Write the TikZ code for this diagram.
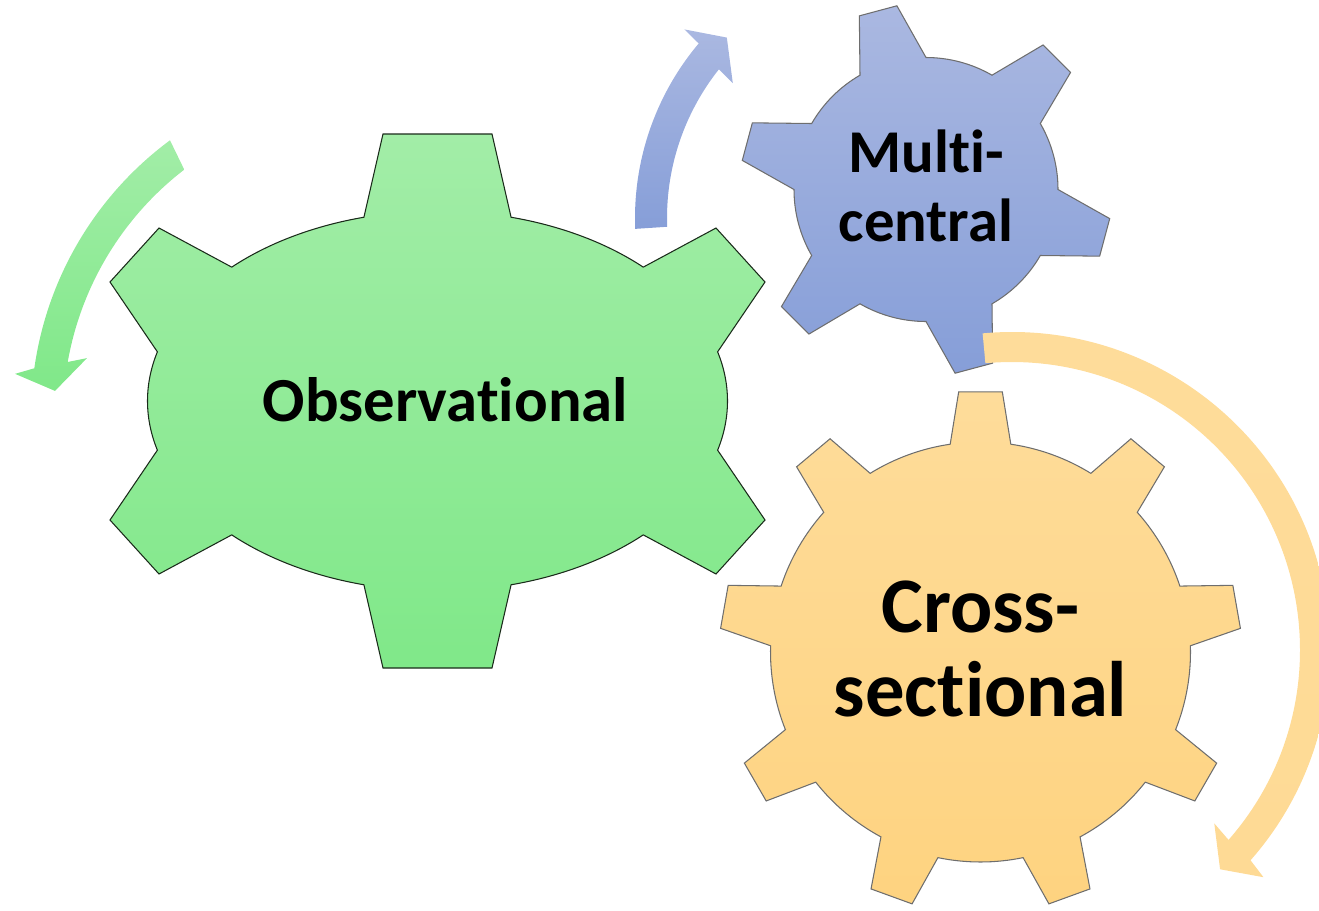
\documentclass[tikz,border=0pt]{standalone}
\usepackage{fontspec}
\setmainfont{Carlito}[Ligatures=NoCommon]
\definecolor{gTop}{RGB}{162,237,167}
\definecolor{gBot}{RGB}{128,232,137}
\definecolor{bTop}{RGB}{170,184,225}
\definecolor{bBot}{RGB}{134,158,216}
\definecolor{oTop}{RGB}{254,220,154}
\definecolor{oBot}{RGB}{254,211,128}
\definecolor{gearline}{RGB}{110,110,110}
\tikzset{
  geargreen/.style={draw=gearline!80!green!30!black,line width=0.6pt,top color=gTop,bottom color=gBot,line join=miter},
  gearblue/.style={draw=gearline,line width=0.6pt,top color=bTop,bottom color=bBot,line join=miter},
  gearorange/.style={draw=gearline,line width=0.6pt,top color=oTop,bottom color=oBot,line join=miter},
  arrgreen/.style={top color=gTop,bottom color=gBot},
  arrblue/.style={top color=bTop,bottom color=bBot},
  arrorange/.style={top color=oTop,bottom color=oTop!80!oBot},
  label/.style={font=\bfseries, text=black, align=center, inner sep=0pt}
}
\begin{document}
\begin{tikzpicture}[x=0.02cm,y=-0.02cm]
\useasboundingbox (0,0) rectangle (1319,910);
\clip (0,0) rectangle (1319,910);
% green gear
\begin{scope}[shift={(437.5,401)}]
\path[geargreen] (255.3:290 and 190) -- (-54.5,-267) -- (54.5,-267) -- (284.7:290 and 190)
 arc[start angle=284.7,end angle=315.2,x radius=290,y radius=190]
 -- (278.5,-173) -- (327.5,-119) -- (345:290 and 190)
 arc[start angle=345,end angle=375,x radius=290,y radius=190]
 -- (327.5,119) -- (278.5,173) -- (44.8:290 and 190)
 arc[start angle=44.8,end angle=75.3,x radius=290,y radius=190]
 -- (54.5,267) -- (-54.5,267) -- (104.7:290 and 190)
 arc[start angle=104.7,end angle=135.2,x radius=290,y radius=190]
 -- (-278.5,173) -- (-327.5,119) -- (165:290 and 190)
 arc[start angle=165,end angle=195,x radius=290,y radius=190]
 -- (-327.5,-119) -- (-278.5,-173) -- (224.8:290 and 190)
 arc[start angle=224.8,end angle=255.3,x radius=290,y radius=190] -- cycle;
\end{scope}
% blue gear
\begin{scope}[shift={(926,189.5)}]
\path[gearblue] (-120:132) \foreach \k in {0,...,5}{
  -- ({-105+60*\k-15}:132) -- ({-105+60*\k-6}:186) -- ({-105+60*\k+6}:186) -- ({-105+60*\k+15}:132)
  arc[start angle={-105+60*\k+15},end angle={-105+60*\k+45},radius=132]} -- cycle;
\end{scope}
% orange gear
\begin{scope}[shift={(980.5,652)}]
\path[gearorange] (-98.3:210) \foreach \k in {0,...,8}{
  -- ({-90+40*\k-8.3}:210) -- ({-90+40*\k-4.8}:261) -- ({-90+40*\k+4.8}:261) -- ({-90+40*\k+8.3}:210)
  arc[start angle={-90+40*\k+8.3},end angle={-90+40*\k+31.7},radius=210]} -- cycle;
\end{scope}
% green arrow
\begin{scope}[shift={(374,416)}]
\path[arrgreen] (-126.5:343) arc[start angle=-126.5,end angle=-172,radius=343]
 -- (-173.3:361.4) -- (-175.5:320) -- (-168.6:292.8) -- (-170:311)
 arc[start angle=-170,end angle=-127.6,radius=311] -- cycle;
\end{scope}
% blue arrow
\begin{scope}[shift={(906,218)}]
\path[arrblue] (177.7:271) arc[start angle=177.7,end angle=220.1,radius=271]
 -- (220.4:291) -- (225.2:254.3) -- (217.9:219.5) -- (218.5:239)
 arc[start angle=218.5,end angle=177.9,radius=239] -- cycle;
\end{scope}
% orange arrow
\begin{scope}[shift={(1012,650)}]
\path[arrorange] (-95.3:318) arc[start angle=-95.3,end angle=41.4,radius=318]
 -- (42.1:338.9) -- (46.5:302.3) -- (40.6:266.4) -- (41.25:288)
 arc[start angle=41.25,end angle=-95.3,radius=288] -- cycle;
\end{scope}
% labels
\node[label,font=\bfseries\fontsize{35.7}{40}\selectfont,anchor=base] (obs) at (445.5,421) {Observational};
\node[label,font=\bfseries\fontsize{34.6}{39.1}\selectfont,anchor=base] (mc) at (926,241.5) {Multi-\\central};
\node[label,font=\bfseries\fontsize{44.8}{47.6}\selectfont,anchor=base] (cs) at (980.5,716) {Cross-\\sectional};
\end{tikzpicture}
\end{document}
